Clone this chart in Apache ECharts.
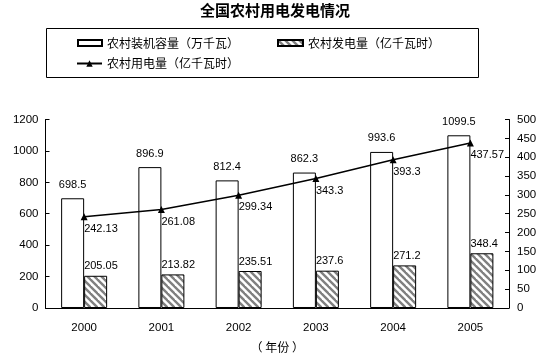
<!DOCTYPE html>
<html>
<head>
<meta charset="utf-8">
<script src="https://cdn.jsdelivr.net/npm/echarts@6/dist/echarts.min.js"></script>
<style>html,body{margin:0;padding:0;background:#fff;}#c{width:550px;height:358px;}</style>
</head>
<body>
<div id="c"></div>
<script>
const years = ['2000', '2001', '2002', '2003', '2004', '2005'];
const capacity = [698.5, 896.9, 812.4, 862.3, 993.6, 1099.5];
const generation = [205.05, 213.82, 235.51, 237.6, 271.2, 348.4];
const consumption = [242.13, 261.08, 299.34, 343.3, 393.3, 437.57];
const leftTicks = [0, 1200, 200];
const rightTicks = [0, 500, 50];
const nameCap = '农村装机容量（万千瓦）';
const nameGen = '农村发电量（亿千瓦时）';
const nameUse = '农村用电量（亿千瓦时）';

const pc = document.createElement('canvas');
pc.width = 7; pc.height = 7;
const g = pc.getContext('2d');
g.fillStyle = '#fff'; g.fillRect(0, 0, 7, 7);
g.strokeStyle = '#808080'; g.lineWidth = 2.4;
[-7, 0, 7].forEach(function (x0) {
  g.beginPath(); g.moveTo(x0 - 1, -1); g.lineTo(x0 + 8, 8); g.stroke();
});
const hatch = { image: pc, repeat: 'repeat' };

const numFont = 'Liberation Sans';
const cjk = 'Noto Sans CJK SC';
const plain = function (v) { return String(v); };
const chart = echarts.init(document.getElementById('c'));
const legendText = { fontFamily: cjk, fontSize: 12, color: '#000', lineHeight: 14 };
chart.setOption({
  animation: false,
  backgroundColor: '#fff',
  title: {
    text: '全国农村用电发电情况', left: 'center', top: 3, padding: 0,
    textStyle: { fontFamily: cjk, fontSize: 15, fontWeight: 'bold', color: '#000' }
  },
  graphic: [{
    type: 'rect', shape: { x: 46.5, y: 28.5, width: 432, height: 49 },
    style: { fill: 'none', stroke: '#000', lineWidth: 1 }
  }],
  legend: [
    { data: [nameCap], icon: 'rect', left: 77, top: 36, padding: 0, itemWidth: 24, itemHeight: 6, itemGap: 0, textStyle: legendText },
    { data: [nameGen], icon: 'rect', left: 277, top: 36, padding: 0, itemWidth: 25, itemHeight: 6, itemGap: 0, textStyle: legendText },
    { data: [nameUse], left: 76, top: 56.5, padding: 0, itemWidth: 25, itemHeight: 8, itemGap: 0, textStyle: legendText }
  ],
  grid: { left: 45.5, right: 41, top: 119.5, bottom: 46.5, containLabel: false },
  xAxis: {
    type: 'category', data: years,
    name: '（ 年份 ）', nameLocation: 'middle', nameGap: 33,
    nameTextStyle: { fontFamily: cjk, fontSize: 12, color: '#000' },
    axisLine: { lineStyle: { color: '#000', width: 1 } },
    axisTick: { inside: true, length: 4, lineStyle: { color: '#000' } },
    axisLabel: { fontFamily: numFont, fontSize: 11.5, color: '#000', margin: 14 }
  },
  yAxis: [{
    type: 'value', min: leftTicks[0], max: leftTicks[1], interval: leftTicks[2],
    splitLine: { show: false },
    axisLine: { show: true, lineStyle: { color: '#000' } },
    axisTick: { show: true, inside: true, length: 4, lineStyle: { color: '#000' } },
    axisLabel: { formatter: plain, fontFamily: numFont, fontSize: 11.5, color: '#000', margin: 7 }
  }, {
    type: 'value', min: rightTicks[0], max: rightTicks[1], interval: rightTicks[2],
    position: 'right',
    splitLine: { show: false },
    axisLine: { show: true, lineStyle: { color: '#000' } },
    axisTick: { show: true, inside: true, length: 4, lineStyle: { color: '#000' } },
    axisLabel: { formatter: plain, fontFamily: numFont, fontSize: 11.5, color: '#000', margin: 8 }
  }],
  series: [{
    name: nameCap, type: 'bar', data: capacity, yAxisIndex: 0,
    barWidth: 23, barGap: '0%',
    itemStyle: { color: '#fff', borderColor: '#000', borderWidth: 1 },
    label: { show: true, position: 'top', distance: 8, fontFamily: numFont, fontSize: 11, color: '#000' }
  }, {
    name: nameGen, type: 'bar', data: generation, yAxisIndex: 0,
    barWidth: 23, barGap: '0%',
    itemStyle: { color: hatch, borderColor: '#000', borderWidth: 1 },
    label: { show: true, position: [0, -4], align: 'left', verticalAlign: 'bottom', fontFamily: numFont, fontSize: 11, color: '#000' }
  }, {
    name: nameUse, type: 'line', data: consumption, yAxisIndex: 1,
    symbol: 'triangle', symbolSize: 7,
    lineStyle: { color: '#000', width: 1.5 },
    itemStyle: { color: '#000' },
    label: { show: true, position: [3.5, 10], align: 'left', verticalAlign: 'top', fontFamily: numFont, fontSize: 11, color: '#000' },
    z: 5
  }]
});
</script>
</body>
</html>
